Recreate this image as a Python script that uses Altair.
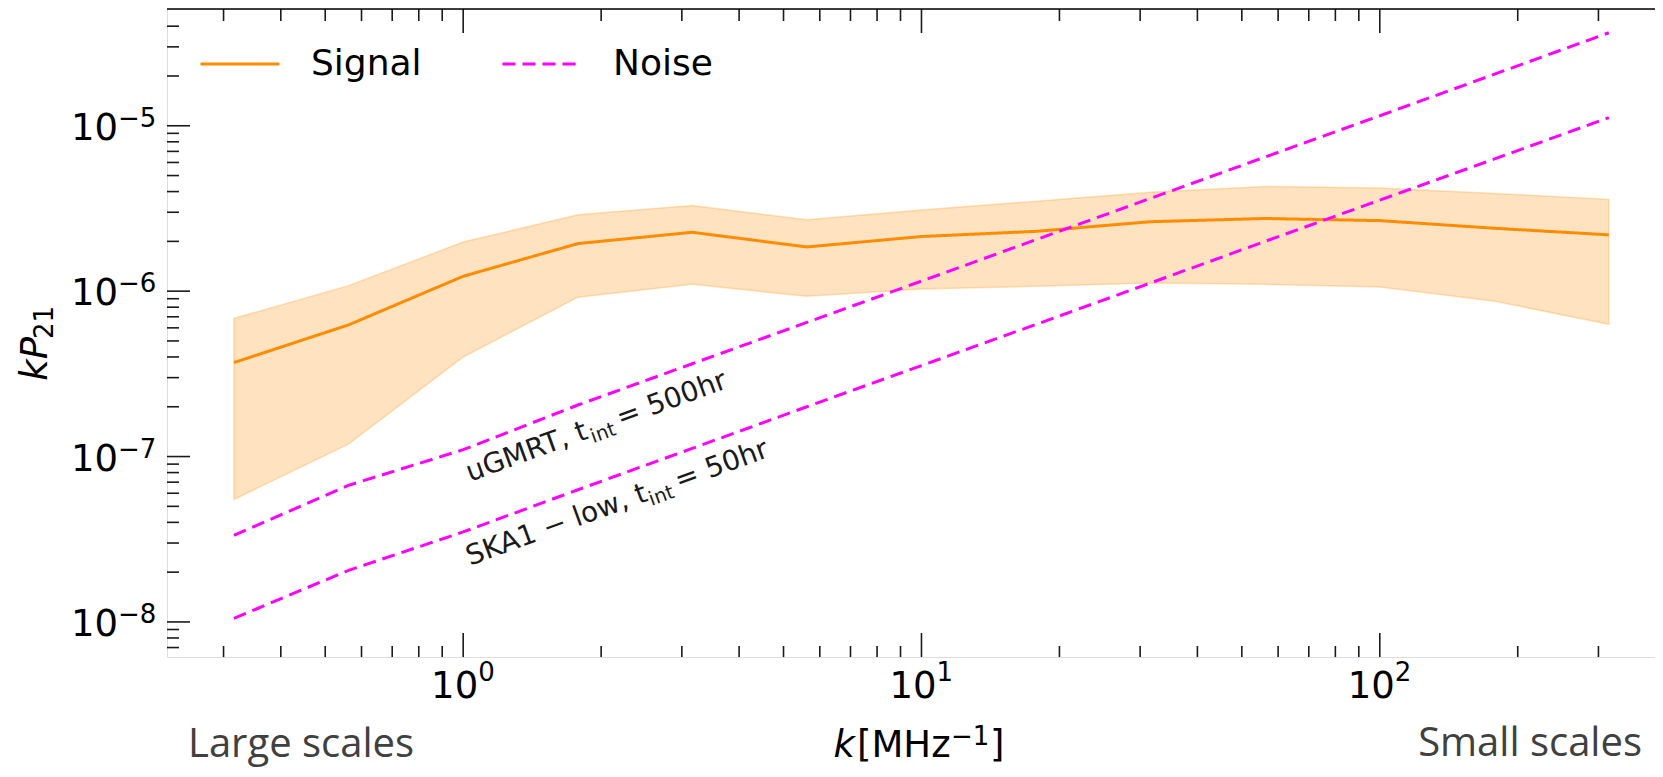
import altair as alt
import pandas as pd

# ---------------- data ----------------
k = [0.316, 0.562, 1.0, 1.78, 3.16, 5.62, 10.0, 17.8, 31.6, 56.2, 100.0, 178.0, 316.0]
signal = [3.7e-7, 6.25e-7, 1.23e-6, 1.94e-6, 2.27e-6, 1.85e-6, 2.14e-6, 2.3e-6,
          2.63e-6, 2.75e-6, 2.67e-6, 2.4e-6, 2.19e-6]
signal_hi = [6.84e-7, 1.08e-6, 1.98e-6, 2.9e-6, 3.3e-6, 2.7e-6, 3.1e-6, 3.5e-6,
             3.96e-6, 4.3e-6, 4.2e-6, 3.9e-6, 3.59e-6]
signal_lo = [5.5e-8, 1.19e-7, 4.0e-7, 9.2e-7, 1.1e-6, 9.3e-7, 1.03e-6, 1.07e-6,
             1.12e-6, 1.1e-6, 1.06e-6, 8.7e-7, 6.3e-7]
noise_ugmrt = [3.34e-8, 6.7e-8, 1.1e-7, 2.05e-7, 3.64e-7, 6.47e-7, 1.15e-6, 2.05e-6,
               3.64e-6, 6.47e-6, 1.15e-5, 2.05e-5, 3.65e-5]
noise_ska = [1.05e-8, 2.05e-8, 3.5e-8, 6.3e-8, 1.12e-7, 2.0e-7, 3.55e-7, 6.3e-7,
             1.12e-6, 2.0e-6, 3.55e-6, 6.3e-6, 1.12e-5]

legend_names = ["Signal", "Noise"]
# annotation pieces: main text, subscript, rest
annot_main = ["uGMRT, t", "SKA1 − low, t"]
annot_sub = ["int", "int"]
annot_rest = ["= 500hr", "= 50hr"]
annot_k = [1.035, 1.035]          # start of the text (left end of baseline)
annot_p = [7.05e-8, 2.19e-8]

x_major = [1, 10, 100]
x_major_exps = ["0", "1", "2"]
x_minor = [0.3, 0.4, 0.5, 0.6, 0.7, 0.8, 0.9,
           2, 3, 4, 5, 6, 7, 8, 9,
           20, 30, 40, 50, 60, 70, 80, 90,
           200, 300]
y_major = [1e-8, 1e-7, 1e-6, 1e-5]
y_major_exps = ["−8", "−7", "−6", "−5"]
y_minor = [7e-9, 8e-9, 9e-9,
           2e-8, 3e-8, 4e-8, 5e-8, 6e-8, 7e-8, 8e-8, 9e-8,
           2e-7, 3e-7, 4e-7, 5e-7, 6e-7, 7e-7, 8e-7, 9e-7,
           2e-6, 3e-6, 4e-6, 5e-6, 6e-6, 7e-6, 8e-6, 9e-6,
           2e-5, 3e-5, 4e-5]

x_domain = [0.2258, 398.6]
y_domain = [10 ** -8.212, 10 ** -4.294]

# ---------------- layout constants ----------------
W, H = 1488, 648
ORANGE = "#ff8c00"
MAGENTA = "#ff00ff"
INK = "#1a1a1a"
FONT = "DejaVu Sans"
FS = 37      # tick / axis-title font size
FSS = 26     # super/subscript size
AFS = 28     # annotation font size

xs = alt.Scale(type="log", domain=x_domain, nice=False)
ys = alt.Scale(type="log", domain=y_domain, nice=False)

df_sig = pd.DataFrame({"k": k, "signal": signal, "lo": signal_lo, "hi": signal_hi})

rows = []
for kk, s in zip(k, signal):
    rows.append({"k": kk, "v": s, "kind": "Signal", "series": "signal"})
for kk, s in zip(k, noise_ugmrt):
    rows.append({"k": kk, "v": s, "kind": "Noise", "series": "ugmrt"})
for kk, s in zip(k, noise_ska):
    rows.append({"k": kk, "v": s, "kind": "Noise", "series": "ska"})
df_lines = pd.DataFrame(rows)

band = alt.Chart(df_sig).mark_area(
    color=ORANGE, fillOpacity=0.25, stroke=ORANGE, strokeOpacity=0.25, strokeWidth=1.5
).encode(
    x=alt.X("k:Q", scale=xs,
            axis=alt.Axis(values=x_major, labels=False, ticks=False, grid=False, title=None,
                          domainColor="black", domainWidth=1.5)),
    y=alt.Y("lo:Q", scale=ys,
            axis=alt.Axis(values=y_major, labels=False, ticks=False, grid=False, title=None,
                          domainColor="black", domainWidth=1.5)),
    y2="hi:Q",
)

LEG = alt.Legend(title=None, orient="none", legendX=32, legendY=14,
                 direction="horizontal", symbolType="stroke",
                 symbolSize=6241, symbolStrokeWidth=3,
                 labelFontSize=36, labelFont=FONT, labelColor="black",
                 labelOffset=30, columnPadding=74, padding=0, labelLimit=300)

lines = alt.Chart(df_lines).mark_line(strokeWidth=3).encode(
    x=alt.X("k:Q", scale=xs, axis=None),
    y=alt.Y("v:Q", scale=ys, axis=None),
    color=alt.Color("kind:N", scale=alt.Scale(domain=legend_names, range=[ORANGE, MAGENTA]),
                    legend=LEG),
    strokeDash=alt.StrokeDash("kind:N",
                              scale=alt.Scale(domain=legend_names, range=[[1, 0], [13, 7]]),
                              legend=LEG),
    detail="series:N",
)

# rotated annotations, composed from pieces along the rotated baseline
df_ann = pd.DataFrame({"k": annot_k, "p": annot_p, "m": annot_main,
                       "s": annot_sub, "r": annot_rest})
W_MAIN = [4.606 * AFS, 6.821 * AFS]   # DejaVu advance widths of the main pieces
ann_layers = []
for i in range(2):
    d = df_ann.iloc[[i]]
    sub_dx = W_MAIN[i]
    rest_dx = W_MAIN[i] + 0.913 * AFS + 0.2 * AFS
    for col, size, dx, dy in [("m", AFS, 0, 0), ("s", AFS * 0.7, sub_dx, 6),
                              ("r", AFS, rest_dx, 0)]:
        ann_layers.append(
            alt.Chart(d).mark_text(angle=340, fontSize=size, font=FONT, color=INK,
                                   align="left", baseline="alphabetic", dx=dx, dy=dy)
            .encode(x=alt.X("k:Q", scale=xs, axis=None),
                    y=alt.Y("p:Q", scale=ys, axis=None),
                    text=f"{col}:N"))

TICK = dict(color=INK, strokeWidth=1.6)
dfx_maj = pd.DataFrame({"v": x_major, "e": x_major_exps, "b": ["10"] * len(x_major)})
dfx_min = pd.DataFrame({"v": x_minor})
dfy_maj = pd.DataFrame({"v": y_major, "e": y_major_exps, "b": ["10"] * len(y_major)})
dfy_min = pd.DataFrame({"v": y_minor})


def xticks(df, y0, y1):
    return alt.Chart(df).mark_rule(**TICK).encode(
        x=alt.X("v:Q", scale=xs, axis=None), y=alt.value(y0), y2=alt.value(y1))


def yticks(df, x0, x1):
    return alt.Chart(df).mark_rule(**TICK).encode(
        y=alt.Y("v:Q", scale=ys, axis=None), x=alt.value(x0), x2=alt.value(x1))


ticks = [
    xticks(dfx_maj, H, H - 24), xticks(dfx_min, H, H - 11),
    xticks(dfx_maj, 0, 24), xticks(dfx_min, 0, 12),
    yticks(dfy_maj, 0, 23), yticks(dfy_min, 0, 12),
]

# tick labels "10" + raised exponent
xlab_base = alt.Chart(dfx_maj).mark_text(
    fontSize=FS, font=FONT, color="black", align="right", baseline="alphabetic", dx=15
).encode(x=alt.X("v:Q", scale=xs, axis=None), y=alt.value(H + 41), text="b:N")
xlab_exp = alt.Chart(dfx_maj).mark_text(
    fontSize=FSS, font=FONT, color="black", align="left", baseline="alphabetic", dx=15
).encode(x=alt.X("v:Q", scale=xs, axis=None), y=alt.value(H + 24), text="e:N")

ylab_base = alt.Chart(dfy_maj).mark_text(
    fontSize=FS, font=FONT, color="black", align="right", baseline="alphabetic", dy=14
).encode(y=alt.Y("v:Q", scale=ys, axis=None), x=alt.value(-49), text="b:N")
ylab_exp = alt.Chart(dfy_maj).mark_text(
    fontSize=FSS, font=FONT, color="black", align="left", baseline="alphabetic", dy=1
).encode(y=alt.Y("v:Q", scale=ys, axis=None), x=alt.value(-49), text="e:N")

one = pd.DataFrame({"a": [0]})
top_frame = alt.Chart(one).mark_rule(color="black", strokeWidth=1.5).encode(
    x=alt.value(0), x2=alt.value(W), y=alt.value(0))


def label(text, x, y, size=FS, style="normal", align="left", angle=0, font=FONT,
          color="black"):
    return alt.Chart(one).mark_text(text=text, fontSize=size, font=font, fontStyle=style,
                                    color=color, align=align, baseline="alphabetic",
                                    angle=angle).encode(x=alt.value(x), y=alt.value(y))


# axis titles
ytitle = [label("kP", -120, 328, style="italic", align="right", angle=270),
          label("21", -114, 330, size=FSS, align="left", angle=270)]
xtitle = [label("k", 688, 748, style="italic", align="right"),
          label("[MHz", 690, 748),
          label("−1", 784, 736, size=FSS),
          label("]", 823, 748)]

large = label("Large scales", 21, 748, size=40, font="Open Sans", color="#404040")
small = label("Small scales", 1475, 747, size=40, font="Open Sans", color="#404040",
              align="right")

chart = alt.layer(
    band, lines, *ann_layers, *ticks, xlab_base, xlab_exp, ylab_base, ylab_exp, top_frame,
    *ytitle, *xtitle, large, small,
).properties(
    width=W, height=H,
    autosize=alt.AutoSizeParams(type="none"),
    padding={"left": 159, "top": 1, "right": 0, "bottom": 112},
).configure_view(stroke=None).configure(background="white")

chart.save("out.html", embed_options={"renderer": "svg", "actions": False})
